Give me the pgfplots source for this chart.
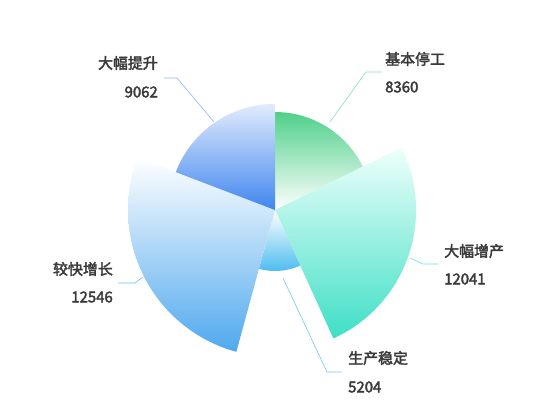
\documentclass[border=0pt]{standalone}
\usepackage{pgfplots}
\pgfplotsset{compat=1.18}
\usepgfplotslibrary{polar}
\usepackage{fontspec}
\setmainfont{Noto Sans CJK SC}[BoldFont={Noto Sans CJK SC}, BoldFeatures={FakeBold=2.6}]

\definecolor{txt}{HTML}{3A3A3A}
\definecolor{gA}{HTML}{4FD08A}
\definecolor{gB}{HTML}{3EDFC6}
\definecolor{gBt}{HTML}{EEFFFB}
\definecolor{gC}{HTML}{4DBDF0}
\definecolor{gD}{HTML}{4FA8EE}
\definecolor{gE}{HTML}{3F86EE}
\definecolor{gEt}{HTML}{E2EBFD}

% values: 基本停工 8360, 大幅增产 12041, 生产稳定 5204, 较快增长 12546, 大幅提升 9062
\pgfmathsetmacro\tot{8360/100+12041/100+5204/100+12546/100+9062/100}
\pgfmathsetmacro\sA{90}
\pgfmathsetmacro\sB{\sA-8360/100/\tot*360}
\pgfmathsetmacro\sC{\sB-12041/100/\tot*360}
\pgfmathsetmacro\sD{\sC-5204/100/\tot*360}
\pgfmathsetmacro\sE{\sD-12546/100/\tot*360}
\pgfmathsetmacro\sF{\sE-9062/100/\tot*360}

\tikzset{lbl/.style={text=txt, inner sep=0pt, font=\fontsize{15}{18}\selectfont\bfseries}}

\begin{document}
\begin{tikzpicture}
\path[use as bounding box] (0,0) rectangle (550bp,420bp);
\begin{polaraxis}[
  at={(275bp,210bp)}, anchor=center,
  scale only axis, width=294bp, height=294bp,
  xmin=0, xmax=360, ymin=0, ymax=12546,
  hide axis, clip=false
]
\addplot[draw=none, top color=gA, bottom color=white, domain=\sB:\sA, samples=60] {8360} -- (axis cs:0,0) -- cycle;
\addplot[draw=none, top color=gBt, bottom color=gB, domain=\sC:\sB, samples=80] {12041} -- (axis cs:0,0) -- cycle;
\addplot[draw=none, top color=white, bottom color=gC, domain=\sD:\sC, samples=40] {5204} -- (axis cs:0,0) -- cycle;
\addplot[draw=none, top color=white, bottom color=gD, domain=\sE:\sD, samples=80] {12546} -- (axis cs:0,0) -- cycle;
\addplot[draw=none, top color=gEt, bottom color=gE, domain=\sF:\sE, samples=60] {9062} -- (axis cs:0,0) -- cycle;
\end{polaraxis}
\begin{scope}[x=1bp, y=-1bp, shift={(0,420bp)}]
\draw[gA!60!gB!70, line width=0.6bp] (330,122) -- (366,72) -- (382,72);
\node[lbl, anchor=west] at (385,59) {基本停工};
\node[lbl, anchor=west] at (385,87) {8360};
\draw[gE!60, line width=0.6bp] (214,122) -- (177,78) -- (164,78);
\node[lbl, anchor=east] at (158,63) {大幅提升};
\node[lbl, anchor=east] at (158,92) {9062};
\draw[gD!80, line width=0.6bp] (143,277) -- (135,283) -- (118,283);
\node[lbl, anchor=east] at (113,269) {较快增长};
\node[lbl, anchor=east] at (113,297) {12546};
\draw[gB!80, line width=0.6bp] (410,258) -- (423,264) -- (438,264);
\node[lbl, anchor=west] at (444,251) {大幅增产};
\node[lbl, anchor=west] at (444,279) {12041};
\draw[gC!80, line width=0.6bp] (283,278) -- (327,372) -- (342,372);
\node[lbl, anchor=west] at (348,358) {生产稳定};
\node[lbl, anchor=west] at (348,387) {5204};
\end{scope}
\end{tikzpicture}
\end{document}
